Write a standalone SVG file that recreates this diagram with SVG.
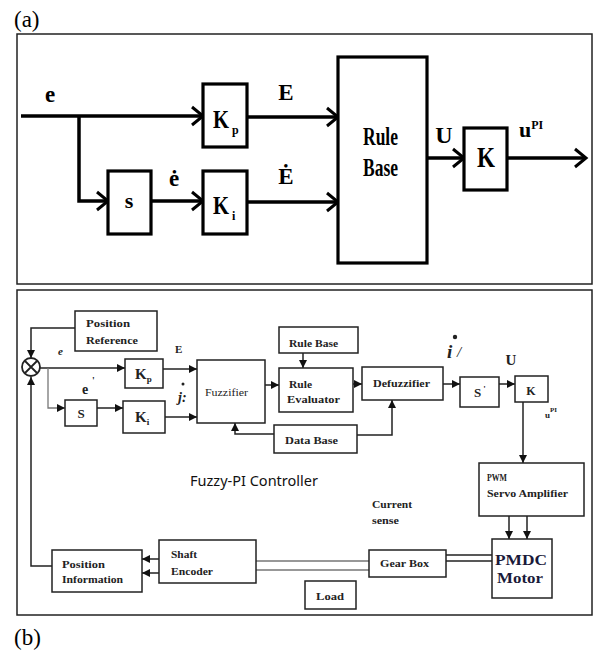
<svg xmlns="http://www.w3.org/2000/svg" width="593" height="650" viewBox="0 0 593 650">
<style>
.frame{fill:none;stroke:#222;stroke-width:1.5}
.tb{fill:#fff;stroke:#000;stroke-width:3.2}
.tl{fill:none;stroke:#000;stroke-width:3.5}
.tt{font-family:"Liberation Serif",serif;font-weight:bold;fill:#000}
.bb{fill:#fff;stroke:#222;stroke-width:1.5}
.bl{fill:none;stroke:#222;stroke-width:1.5}
.bg{fill:none;stroke:#777;stroke-width:1.3}
.bt{font-family:"Liberation Serif",serif;font-weight:bold;font-size:11px;fill:#222}
.cap{font-family:"Liberation Serif",serif;font-size:23px;fill:#000}
</style>
<defs>
<marker id="chev" markerUnits="userSpaceOnUse" viewBox="-3 -12 17 24" refX="11" refY="0" markerWidth="17" markerHeight="24" orient="auto"><path d="M0,-9 L11,0 L0,9" fill="none" stroke="#000" stroke-width="3"/></marker>
<marker id="tri" markerUnits="userSpaceOnUse" viewBox="0 0 10 10" refX="10" refY="5" markerWidth="8" markerHeight="8" orient="auto"><path d="M0,0 L10,5 L0,10z" fill="#111"/></marker>
</defs>
<rect width="593" height="650" fill="#fff"/>

<text class="cap" x="14" y="27">(a)</text>
<text class="cap" x="14" y="645">(b)</text>
<rect class="frame" x="17" y="34" width="575" height="250"/>
<rect class="frame" x="17" y="290" width="575" height="325"/>

<g id="connectors">
<path class="tl" d="M21,116 H203" marker-end="url(#chev)"/>
<path class="tl" d="M79,116 V201 H108" marker-end="url(#chev)"/>
<path class="tl" d="M151,201 H203" marker-end="url(#chev)"/>
<path class="tl" d="M247,117 H338" marker-end="url(#chev)"/>
<path class="tl" d="M247,202 H338" marker-end="url(#chev)"/>
<path class="tl" d="M427,158 H464" marker-end="url(#chev)"/>
<path class="tl" d="M507,158 H586" marker-end="url(#chev)"/>

<path class="bl" d="M75,328 H31 V358" marker-end="url(#tri)"/>
<path class="bl" d="M40,368 H125" marker-end="url(#tri)"/>
<path class="bg" d="M48,368 V408 H65" marker-end="url(#tri)"/>
<path class="bl" d="M97,408 H123" marker-end="url(#tri)"/>
<path class="bl" d="M163,369 H197" marker-end="url(#tri)"/>
<path class="bl" d="M165,417 H197" marker-end="url(#tri)"/>
<path class="bl" d="M265,385 H279" marker-end="url(#tri)"/>
<path class="bl" d="M274,434 H235 V423" marker-end="url(#tri)"/>
<path class="bl" d="M303,353 V368" marker-end="url(#tri)"/>
<path class="bl" d="M353,384 H362" marker-end="url(#tri)"/>
<path class="bl" d="M357,435 H392 V400" marker-end="url(#tri)"/>
<path class="bl" d="M443,384 H460" marker-end="url(#tri)"/>
<path class="bl" d="M499,384 H515" marker-end="url(#tri)"/>
<path class="bl" d="M523,402 V463" marker-end="url(#tri)"/>
<path class="bl" d="M509,516 V539" marker-end="url(#tri)"/>
<path class="bl" d="M527,516 V539" marker-end="url(#tri)"/>
<path class="bl" d="M446,555 H492 M446,561 H492"/>
<path class="bg" d="M256,561 H369 M256,570 H369"/>
<path class="bl" d="M159,559 H142" marker-end="url(#tri)"/>
<path class="bl" d="M159,573 H142" marker-end="url(#tri)"/>
<path class="bl" d="M52,566 H31 V377" marker-end="url(#tri)"/>
</g>

<g id="labels-a">
<text class="tt" x="45" y="102" font-size="23">e</text>
<text class="tt" x="286" y="100" font-size="23" text-anchor="middle">E</text>
<text class="tt" x="286" y="184" font-size="23" text-anchor="middle">Ė</text>
<text class="tt" x="174" y="186" font-size="23" text-anchor="middle">ė</text>
<text class="tt" x="444" y="143" font-size="24" text-anchor="middle">U</text>
<text class="tt" x="519" y="137" font-size="22">u<tspan font-size="12" dy="-8">PI</tspan></text>
</g>

<g id="Kp-a"><rect class="tb" x="203" y="84" width="44" height="63"/>
<text class="tt" x="213" y="128" font-size="26" textLength="16" lengthAdjust="spacingAndGlyphs">K</text><text class="tt" x="232" y="134" font-size="12">p</text></g>
<g id="s-a"><rect class="tb" x="108" y="171" width="43" height="63"/>
<text class="tt" x="129" y="208" font-size="22" text-anchor="middle">s</text></g>
<g id="Ki-a"><rect class="tb" x="203" y="171" width="44" height="63"/>
<text class="tt" x="213" y="214" font-size="26" textLength="16" lengthAdjust="spacingAndGlyphs">K</text><text class="tt" x="232" y="220" font-size="12">i</text></g>
<g id="rulebase-a"><rect class="tb" x="338" y="57" width="89" height="206"/>
<text class="tt" x="363" y="145" font-size="25" textLength="35" lengthAdjust="spacingAndGlyphs">Rule</text>
<text class="tt" x="363" y="176" font-size="25" textLength="35" lengthAdjust="spacingAndGlyphs">Base</text></g>
<g id="K-a"><rect class="tb" x="464" y="128" width="43" height="62"/>
<text class="tt" x="477" y="167" font-size="29" textLength="18" lengthAdjust="spacingAndGlyphs">K</text></g>

<g id="posref"><rect class="bb" x="75" y="311" width="82" height="40"/>
<text class="bt" x="86" y="327" textLength="44" lengthAdjust="spacingAndGlyphs">Position</text>
<text class="bt" x="86" y="344" textLength="52" lengthAdjust="spacingAndGlyphs">Reference</text></g>
<g id="sum"><circle cx="31" cy="367" r="9" fill="#fff" stroke="#222" stroke-width="1.8"/>
<path d="M25,361 L37,373 M37,361 L25,373" stroke="#222" stroke-width="1.8"/></g>
<g id="labels-b">
<text class="bt" x="58" y="355" style="font-size:11px;font-style:italic">e</text>
<text class="bt" x="82" y="394" style="font-size:14px">e</text><text class="bt" x="92" y="384" style="font-size:10px">'</text>
<text class="bt" x="175" y="353">E</text>
<circle cx="183" cy="384" r="1.5" fill="#222"/>
<text class="bt" x="178" y="402" style="font-size:14px;font-style:italic">j:</text>
<circle cx="455" cy="337" r="2.2" fill="#222"/>
<text class="bt" x="447" y="358" style="font-size:19px;font-style:italic">i</text>
<text class="bt" x="457" y="357" style="font-size:15px;font-style:italic;font-weight:normal">/</text>
<text class="bt" x="511" y="365" style="font-size:15px" text-anchor="middle">U</text>
<text class="bt" x="545" y="418" style="font-size:9px">u<tspan font-size="7" dy="-6">PI</tspan></text>
<text x="190" y="486" font-family="'Noto Sans','Open Sans',sans-serif" font-size="13.5" fill="#111" textLength="128" lengthAdjust="spacingAndGlyphs">Fuzzy-PI Controller</text>
<text class="bt" x="372" y="508" textLength="40" lengthAdjust="spacingAndGlyphs">Current</text>
<text class="bt" x="372" y="524" textLength="27" lengthAdjust="spacingAndGlyphs">sense</text>
</g>
<g id="Kp-b"><rect class="bb" x="125" y="359" width="38" height="29"/>
<text class="bt" x="135" y="379" style="font-size:15px">K<tspan font-size="9" dy="3">p</tspan></text></g>
<g id="S-b"><rect class="bb" x="65" y="400" width="32" height="26"/>
<text class="bt" x="81" y="418" style="font-size:13px" text-anchor="middle">S</text></g>
<g id="Ki-b"><rect class="bb" x="123" y="401" width="42" height="32"/>
<text class="bt" x="135" y="422" style="font-size:15px">K<tspan font-size="9" dy="3">i</tspan></text></g>
<g id="fuzzifier"><rect class="bb" x="197" y="360" width="68" height="63"/>
<text class="bt" x="205" y="396" style="font-size:10.5px;font-weight:normal" textLength="43" lengthAdjust="spacingAndGlyphs">Fuzzifier</text></g>
<g id="rulebase-b"><rect class="bb" x="279" y="327" width="79" height="26"/>
<text class="bt" x="289" y="347" textLength="49" lengthAdjust="spacingAndGlyphs">Rule Base</text></g>
<g id="ruleeval"><rect class="bb" x="279" y="368" width="74" height="44"/>
<text class="bt" x="289" y="388" textLength="23" lengthAdjust="spacingAndGlyphs">Rule</text>
<text class="bt" x="287" y="403" textLength="53" lengthAdjust="spacingAndGlyphs">Evaluator</text></g>
<g id="database"><rect class="bb" x="274" y="425" width="83" height="28"/>
<text class="bt" x="285" y="444" textLength="53" lengthAdjust="spacingAndGlyphs">Data Base</text></g>
<g id="defuzzifier"><rect class="bb" x="362" y="367" width="81" height="33"/>
<text class="bt" x="373" y="387" textLength="57" lengthAdjust="spacingAndGlyphs">Defuzzifier</text></g>
<g id="Sinv"><rect class="bb" x="460" y="377" width="39" height="30"/>
<text class="bt" x="474" y="397" style="font-size:13px">S<tspan font-size="9" dx="2" dy="-5">'</tspan></text></g>
<g id="K-b"><rect class="bb" x="515" y="376" width="33" height="26"/>
<text class="bt" x="531" y="395" style="font-size:12px" text-anchor="middle">K</text></g>
<g id="pwm"><rect class="bb" x="479" y="463" width="105" height="53"/>
<text class="bt" x="487" y="481" textLength="20" lengthAdjust="spacingAndGlyphs">PWM</text>
<text class="bt" x="487" y="497" textLength="81" lengthAdjust="spacingAndGlyphs">Servo Amplifier</text></g>
<g id="pmdc"><rect class="bb" x="492" y="539" width="60" height="59"/>
<text x="495" y="565" font-family="'Liberation Serif',serif" font-weight="bold" font-size="15" fill="#1a1a3a" textLength="52" lengthAdjust="spacingAndGlyphs">PMDC</text>
<text x="497" y="583" font-family="'Liberation Serif',serif" font-weight="bold" font-size="15" fill="#1a1a3a" textLength="46" lengthAdjust="spacingAndGlyphs">Motor</text></g>
<g id="gearbox"><rect class="bb" x="369" y="550" width="77" height="27"/>
<text class="bt" x="380" y="567" textLength="49" lengthAdjust="spacingAndGlyphs">Gear Box</text></g>
<g id="encoder"><rect class="bb" x="159" y="540" width="97" height="43"/>
<text class="bt" x="171" y="558" textLength="26" lengthAdjust="spacingAndGlyphs">Shaft</text>
<text class="bt" x="171" y="575" textLength="42" lengthAdjust="spacingAndGlyphs">Encoder</text></g>
<g id="posinfo"><rect class="bb" x="52" y="550" width="90" height="42"/>
<text class="bt" x="62" y="568" textLength="43" lengthAdjust="spacingAndGlyphs">Position</text>
<text class="bt" x="62" y="583" textLength="61" lengthAdjust="spacingAndGlyphs">Information</text></g>
<g id="load"><rect class="bb" x="305" y="581" width="51" height="28"/>
<text class="bt" x="316" y="600" textLength="28" lengthAdjust="spacingAndGlyphs">Load</text></g>
</svg>
